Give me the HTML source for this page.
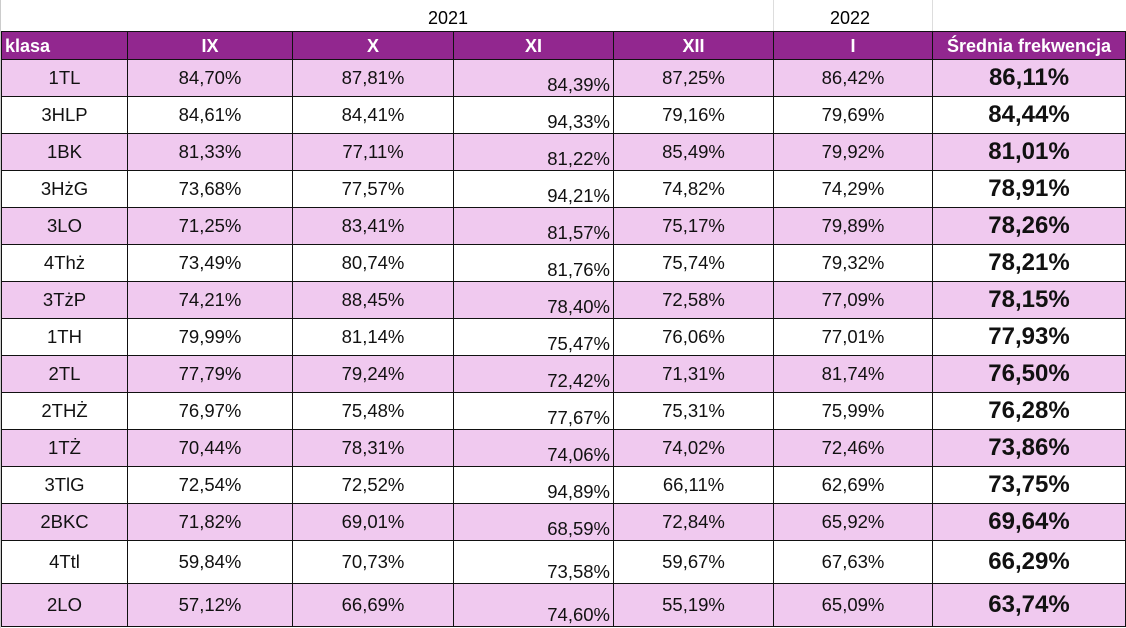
<!DOCTYPE html><html><head><meta charset="utf-8"><style>
body{margin:0;width:1126px;height:628px;background:#fff;font-family:"Liberation Sans",sans-serif;overflow:hidden;position:relative}
.top{position:absolute;top:0;height:31px;font-size:18px;line-height:36px}
table{position:absolute;left:1px;top:31px;border-collapse:collapse;table-layout:fixed}
td{border:1.5px solid #111;padding:0;font-size:18.5px;text-align:center;height:35px;line-height:20px;color:#111;overflow:hidden}
tr.h td{background:#92278f;color:#fff;font-weight:bold;height:27px;font-size:18px}
tr.p td{background:#f0c9ef}
td.xi{text-align:right;vertical-align:bottom;padding-right:3px;padding-bottom:1px}
td.b{font-weight:bold;font-size:24px}
tr.t td{height:41px}
</style></head><body>
<div style="position:absolute;left:773px;top:0;width:1px;height:31px;background:#ddd"></div>
<div style="position:absolute;left:932px;top:0;width:1px;height:31px;background:#ddd"></div>
<div style="position:absolute;left:0;top:0;width:1px;height:628px;background:#ccc"></div>
<div class="top" style="left:428px">2021</div>
<div class="top" style="left:830px">2022</div>
<table>
<colgroup><col style="width:126px"><col style="width:165px"><col style="width:161px"><col style="width:160px"><col style="width:160px"><col style="width:159px"><col style="width:193px"></colgroup>
<tr class="h"><td style="text-align:left;padding-left:3px">klasa</td><td>IX</td><td>X</td><td>XI</td><td>XII</td><td>I</td><td>Średnia frekwencja</td></tr>
<tr class="p"><td>1TL</td><td>84,70%</td><td>87,81%</td><td class="xi">84,39%</td><td>87,25%</td><td>86,42%</td><td class="b">86,11%</td></tr>
<tr><td>3HLP</td><td>84,61%</td><td>84,41%</td><td class="xi">94,33%</td><td>79,16%</td><td>79,69%</td><td class="b">84,44%</td></tr>
<tr class="p"><td>1BK</td><td>81,33%</td><td>77,11%</td><td class="xi">81,22%</td><td>85,49%</td><td>79,92%</td><td class="b">81,01%</td></tr>
<tr><td>3HżG</td><td>73,68%</td><td>77,57%</td><td class="xi">94,21%</td><td>74,82%</td><td>74,29%</td><td class="b">78,91%</td></tr>
<tr class="p"><td>3LO</td><td>71,25%</td><td>83,41%</td><td class="xi">81,57%</td><td>75,17%</td><td>79,89%</td><td class="b">78,26%</td></tr>
<tr><td>4Thż</td><td>73,49%</td><td>80,74%</td><td class="xi">81,76%</td><td>75,74%</td><td>79,32%</td><td class="b">78,21%</td></tr>
<tr class="p"><td>3TżP</td><td>74,21%</td><td>88,45%</td><td class="xi">78,40%</td><td>72,58%</td><td>77,09%</td><td class="b">78,15%</td></tr>
<tr><td>1TH</td><td>79,99%</td><td>81,14%</td><td class="xi">75,47%</td><td>76,06%</td><td>77,01%</td><td class="b">77,93%</td></tr>
<tr class="p"><td>2TL</td><td>77,79%</td><td>79,24%</td><td class="xi">72,42%</td><td>71,31%</td><td>81,74%</td><td class="b">76,50%</td></tr>
<tr><td>2THŻ</td><td>76,97%</td><td>75,48%</td><td class="xi">77,67%</td><td>75,31%</td><td>75,99%</td><td class="b">76,28%</td></tr>
<tr class="p"><td>1TŻ</td><td>70,44%</td><td>78,31%</td><td class="xi">74,06%</td><td>74,02%</td><td>72,46%</td><td class="b">73,86%</td></tr>
<tr><td>3TlG</td><td>72,54%</td><td>72,52%</td><td class="xi">94,89%</td><td>66,11%</td><td>62,69%</td><td class="b">73,75%</td></tr>
<tr class="p"><td>2BKC</td><td>71,82%</td><td>69,01%</td><td class="xi">68,59%</td><td>72,84%</td><td>65,92%</td><td class="b">69,64%</td></tr>
<tr class="t"><td>4Ttl</td><td>59,84%</td><td>70,73%</td><td class="xi">73,58%</td><td>59,67%</td><td>67,63%</td><td class="b">66,29%</td></tr>
<tr class="p t"><td>2LO</td><td>57,12%</td><td>66,69%</td><td class="xi">74,60%</td><td>55,19%</td><td>65,09%</td><td class="b">63,74%</td></tr>
</table>
</body></html>
